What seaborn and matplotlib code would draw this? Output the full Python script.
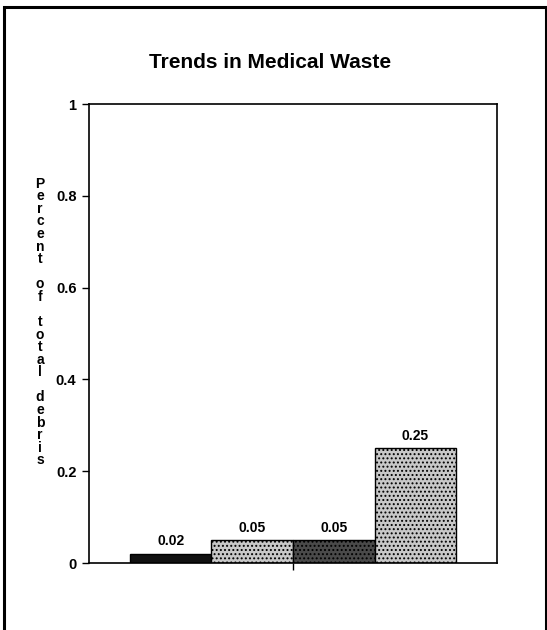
import matplotlib
matplotlib.use("Agg")
import matplotlib.pyplot as plt
import seaborn as sns
import pandas as pd
from matplotlib.patches import Rectangle

# data
categories = ["Group 1", "Group 2", "Group 3", "Group 4"]
values = [0.02, 0.05, 0.05, 0.25]
bar_colors = ["#111111", "#c8c8c8", "#4a4a4a", "#c8c8c8"]
bar_hatches = ["", "....", "....", "...."]
y_ticks = [0, 0.2, 0.4, 0.6, 0.8, 1]
y_tick_labels = ["0", "0.2", "0.4", "0.6", "0.8", "1"]
y_label = "Percent of total debris"
title = "Trends in Medical Waste"

sns.set_theme(style="ticks")
plt.rcParams["font.family"] = ["Liberation Sans", "DejaVu Sans"]
plt.rcParams["hatch.linewidth"] = 0.9
plt.rcParams["text.color"] = "black"

df = pd.DataFrame({"category": categories, "value": values})

fig = plt.figure(figsize=(5.47, 6.30), dpi=100)
ax = fig.add_axes([0.1627, 0.1063, 0.7459, 0.7286])

sns.barplot(
    data=df,
    x="category",
    y="value",
    hue="category",
    palette=bar_colors,
    width=1.0,
    edgecolor="black",
    linewidth=1.0,
    legend=False,
    ax=ax,
)

for patch, hatch in zip(ax.patches, bar_hatches):
    patch.set_hatch(hatch)

for container in ax.containers:
    ax.bar_label(container, fmt="%.2f", padding=4, fontsize=10,
                 fontweight="bold", color="black")

ax.set_xlim(-1, 4)
ax.set_ylim(0, 1)
ax.set_xticks([1.5])
ax.set_xticklabels([""])
ax.set_yticks(y_ticks)
ax.set_yticklabels(y_tick_labels, fontsize=10.5, fontweight="bold", color="black")
ax.tick_params(axis="both", direction="out", length=5, width=1.0, color="black", pad=4)
ax.set_xlabel("")
ax.set_ylabel("")

for spine in ax.spines.values():
    spine.set_visible(True)
    spine.set_color("black")
    spine.set_linewidth(1.2)

# stacked vertical axis label, one letter per line
fig.text(
    40 / 547,
    1 - 322 / 630,
    "\n".join(y_label),
    ha="center",
    va="center",
    fontsize=10,
    fontweight="bold",
    linespacing=0.87,
)

fig.text(270 / 547, 1 - 62 / 630, title, ha="center", va="center",
         fontsize=15, fontweight="bold")

# outer frame
fig.patches.append(
    Rectangle((0.008, -0.02), 0.99, 1.009, transform=fig.transFigure,
              fill=False, edgecolor="black", linewidth=2.2)
)

fig.savefig("out.png", dpi=100)
